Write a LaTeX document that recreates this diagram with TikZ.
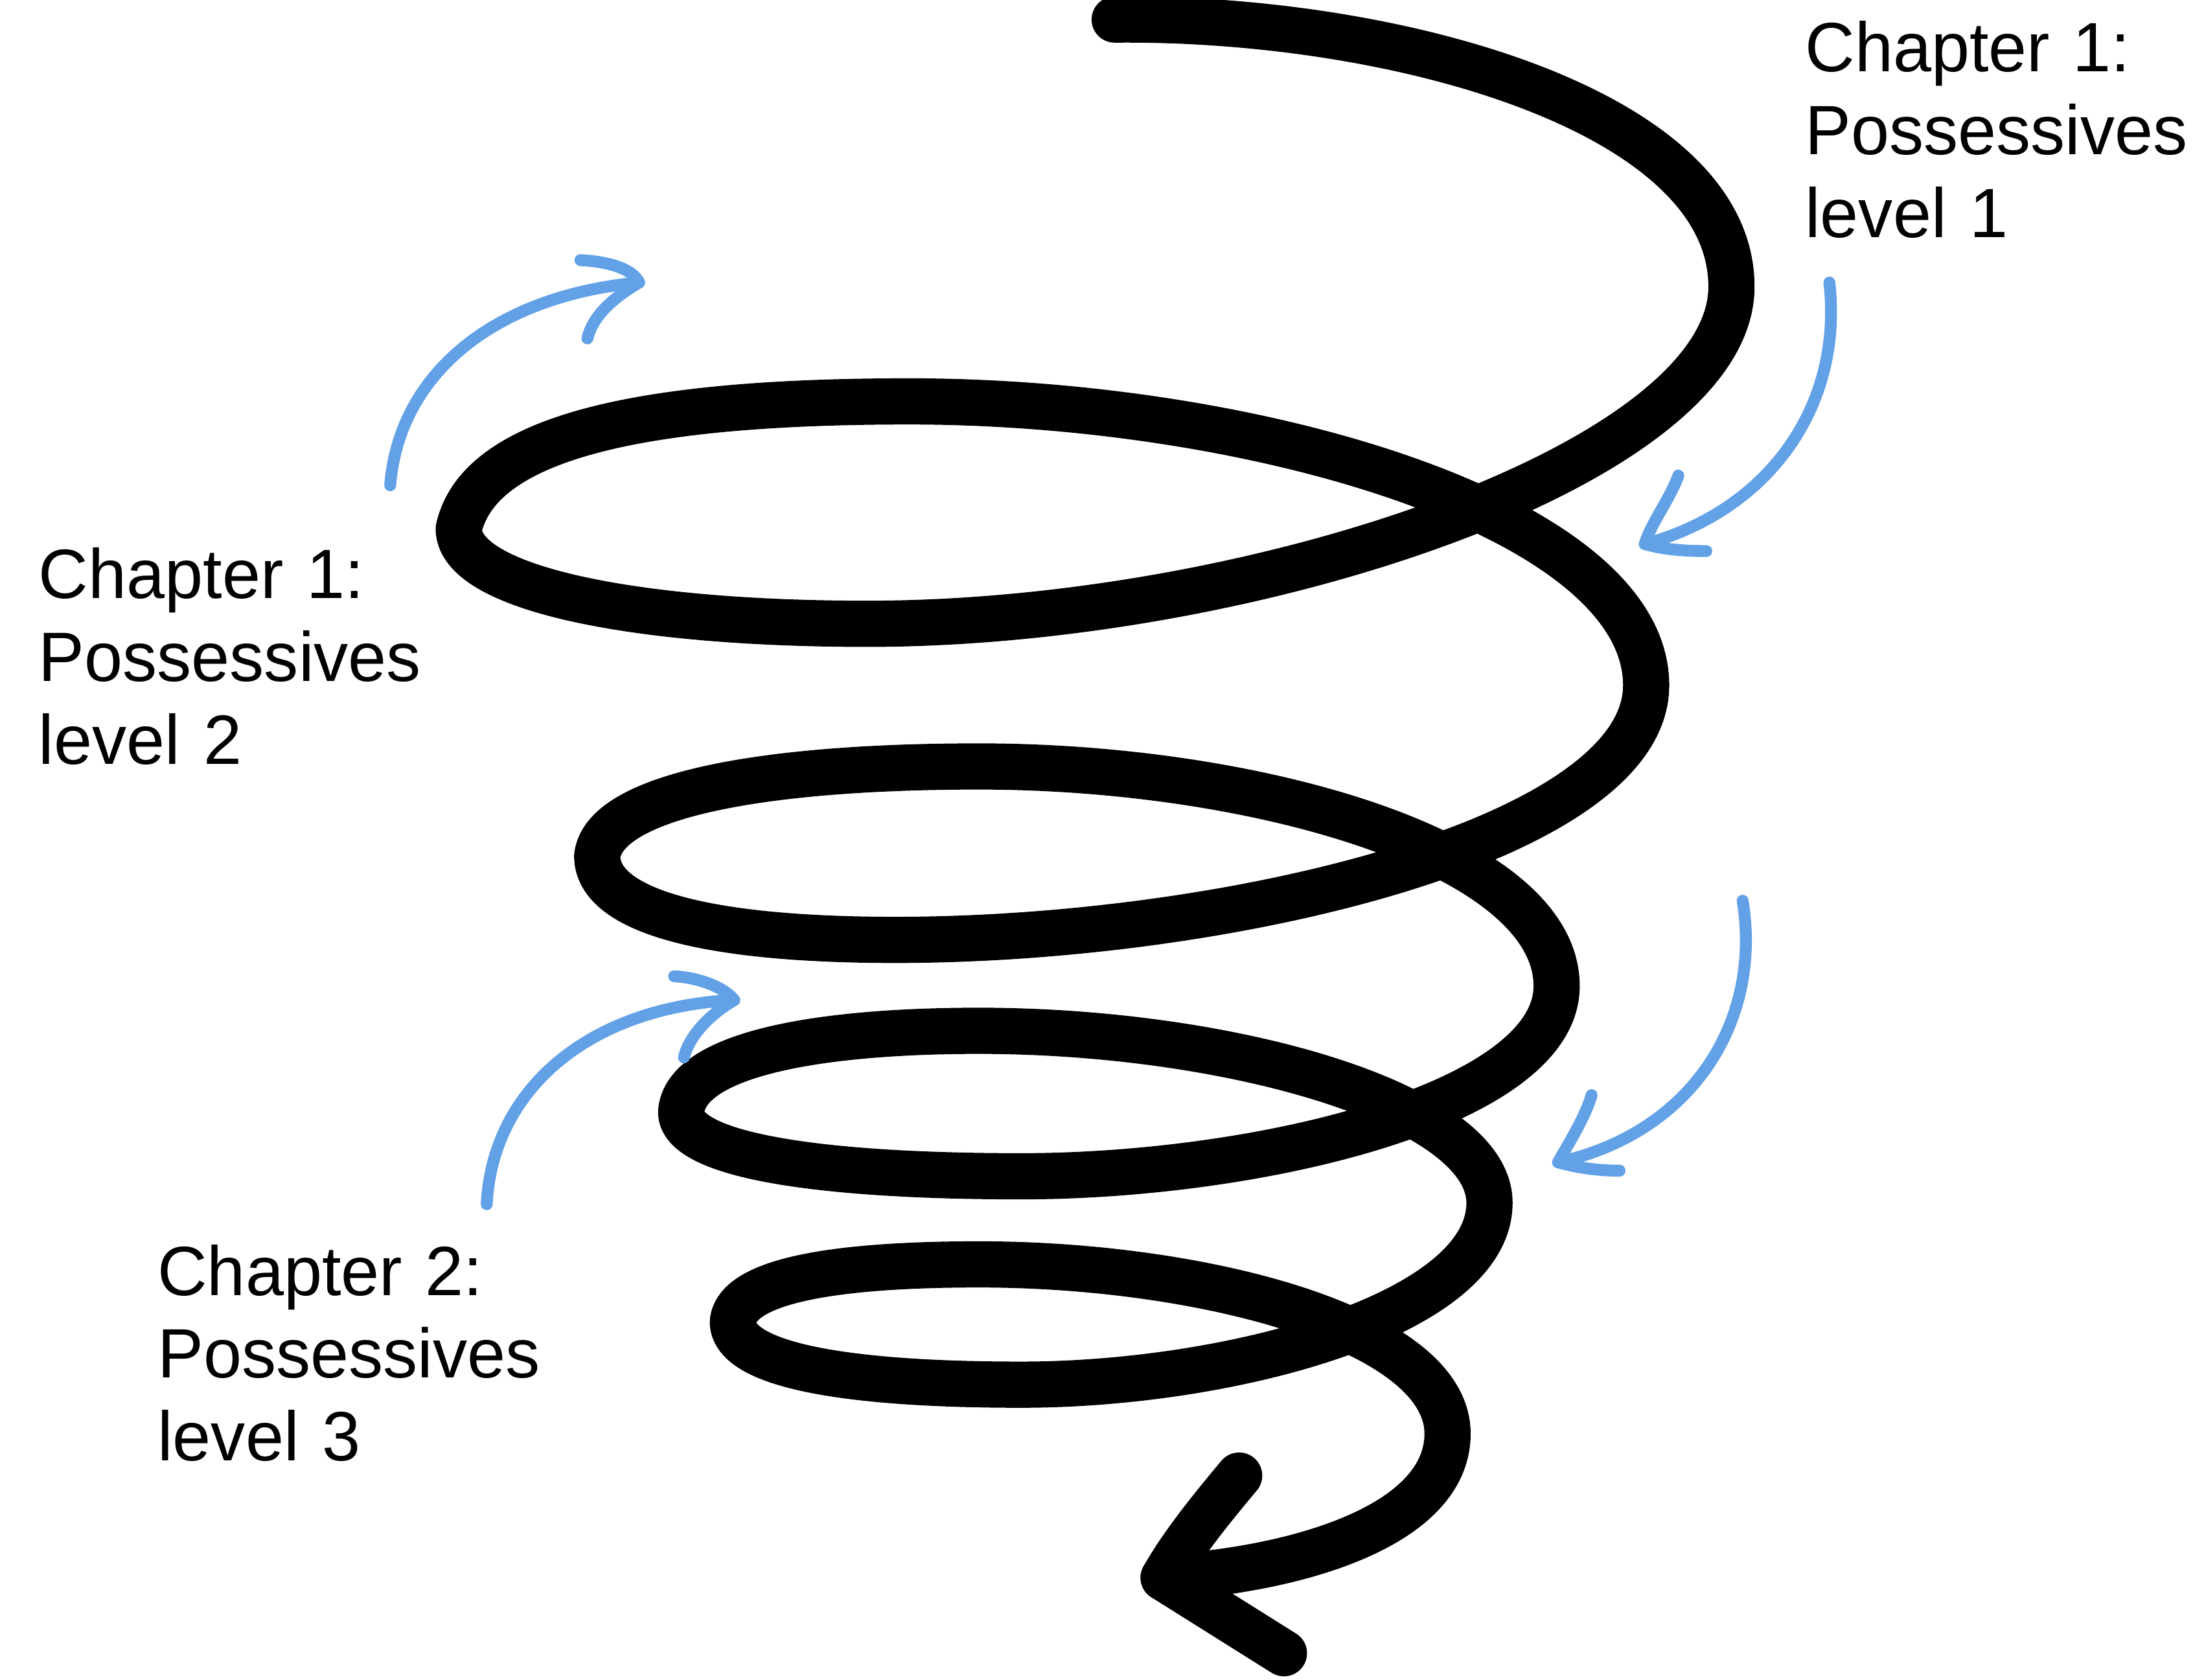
\documentclass[tikz,border=0pt]{standalone}
\usepackage{fontspec}
\setmainfont[FakeStretch=0.985]{Liberation Sans}
\definecolor{arrowblue}{RGB}{99,161,230}
\begin{document}
\begin{tikzpicture}[x=0.01cm,y=-0.01cm,
  spiral/.style={draw=black, line width=0.33cm, line cap=round, line join=round},
  turn/.style={draw=arrowblue, line width=0.085cm, line cap=round, line join=round},
  chap/.style={anchor=base west, inner sep=0pt, align=left, text width=4cm,
    font=\fontsize{14.2pt}{16.85pt}\selectfont}]
\useasboundingbox (0,0) rectangle (1568,1201);

% main spiral
\draw[spiral] (797,14)
  .. controls (1000,12) and (1238,80) .. (1238,205)
  .. controls (1238,330) and (900,446) .. (620,446)
  .. controls (450,446) and (328,420) .. (328,378)
  .. controls (343,312) and (460,287) .. (650,287)
  .. controls (900,287) and (1177,370) .. (1177,490)
  .. controls (1177,600) and (880,672) .. (640,672)
  .. controls (500,672) and (427,650) .. (427,612)
  .. controls (432,570) and (540,548) .. (700,548)
  .. controls (900,548) and (1113,610) .. (1113,705)
  .. controls (1113,790) and (900,841) .. (730,841)
  .. controls (580,841) and (487,825) .. (487,795)
  .. controls (490,755) and (580,737) .. (700,737)
  .. controls (880,737) and (1065,790) .. (1065,860)
  .. controls (1065,940) and (880,990) .. (730,990)
  .. controls (600,990) and (524,975) .. (524,945)
  .. controls (527,915) and (600,904) .. (700,904)
  .. controls (860,904) and (1035,950) .. (1035,1025)
  .. controls (1035,1090) and (930,1122) .. (832,1128);
\draw[spiral] (886,1055) .. controls (865,1080) and (845,1105) .. (832,1128)
  -- (918,1182);

% blue arrows
\draw[turn] (279,347) .. controls (285,270) and (350,212) .. (457,202);
\draw[turn] (415,186) .. controls (435,187) and (452,192) .. (457,202)
  .. controls (440,212) and (424,225) .. (420,242);

\draw[turn] (1308,202) .. controls (1318,290) and (1265,365) .. (1176,389);
\draw[turn] (1200,340) .. controls (1195,355) and (1180,375) .. (1176,389)
  .. controls (1190,393) and (1205,394) .. (1220,394);

\draw[turn] (348,861) .. controls (352,780) and (420,720) .. (525,715);
\draw[turn] (482,698) .. controls (500,699) and (518,706) .. (525,715)
  .. controls (508,725) and (493,740) .. (489,756);

\draw[turn] (1246,644) .. controls (1260,730) and (1210,810) .. (1114,831);
\draw[turn] (1138,783) .. controls (1133,800) and (1120,820) .. (1114,831)
  .. controls (1128,835) and (1143,837) .. (1158,837);

% labels
\node[chap] (lvl1) at (1290,51.3) {Chapter 1:\\Possessives\\level 1};
\node[chap] (lvl2) at (27,428) {Chapter 1:\\Possessives\\level 2};
\node[chap] (lvl3) at (112,926) {Chapter 2:\\Possessives\\level 3};
\end{tikzpicture}
\end{document}
